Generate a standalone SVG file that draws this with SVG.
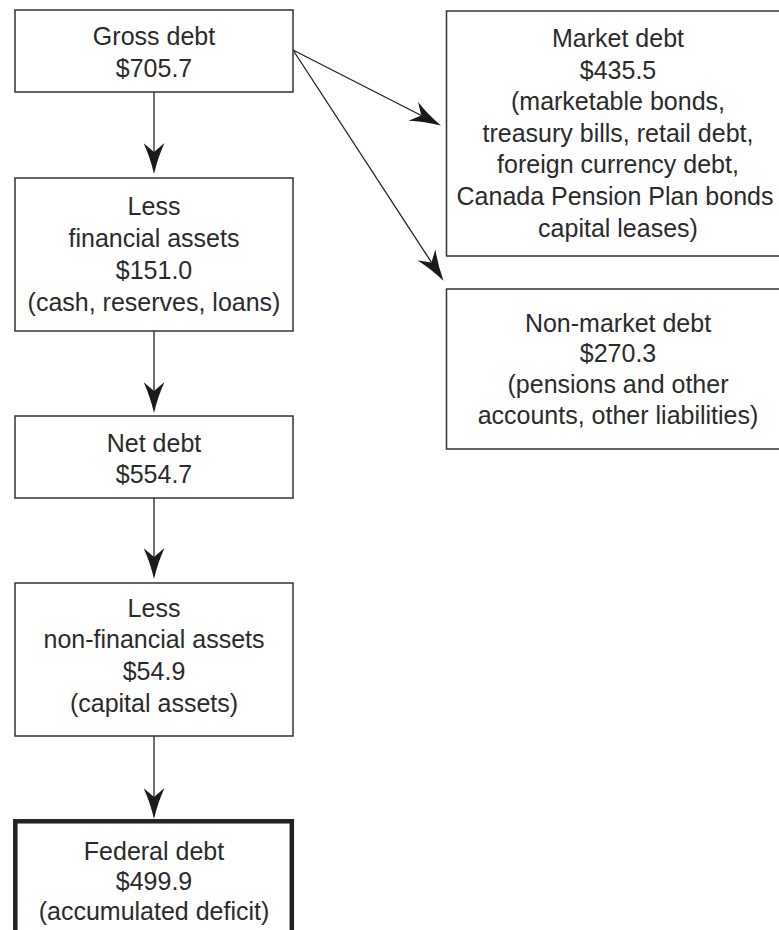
<svg xmlns="http://www.w3.org/2000/svg" width="779" height="930" viewBox="0 0 779 930">
<style>
.box{fill:#fff;stroke:#333;stroke-width:1.5}
.thick{fill:#fff;stroke:#222;stroke-width:4.5}
.t{font-family:"Liberation Sans",Arial,Helvetica,sans-serif;font-size:25px;fill:#2b2b2b;text-anchor:middle}
.c{stroke:#222;stroke-width:1.3;fill:none}
</style>
<defs>
<marker id="ah" markerUnits="userSpaceOnUse" viewBox="0 0 31 21" markerWidth="31" markerHeight="21" refX="9" refY="10.5" orient="auto">
<path d="M31,10.5 Q14,6.5 0,0 L9,10.5 L0,21 Q14,14.5 31,10.5 Z" fill="#1a1a1a"/>
</marker>
</defs>
<rect width="779" height="930" fill="#fff"/>
<g id="connectors">
<line class="c" x1="154" y1="92" x2="154" y2="152" marker-end="url(#ah)"/>
<line class="c" x1="154" y1="331" x2="154" y2="391" marker-end="url(#ah)"/>
<line class="c" x1="154" y1="498" x2="154" y2="557" marker-end="url(#ah)"/>
<line class="c" x1="154" y1="736" x2="154" y2="797" marker-end="url(#ah)"/>
<line class="c" x1="293" y1="50" x2="421.3" y2="115.5" marker-end="url(#ah)"/>
<line class="c" x1="293" y1="50" x2="431.5" y2="262.4" marker-end="url(#ah)"/>
</g>
<g id="gross">
<rect class="box" x="15" y="10" width="278" height="82"/>
<text class="t" x="154" y="45">Gross debt</text>
<text class="t" x="154" y="77">$705.7</text>
</g>
<g id="financial">
<rect class="box" x="15" y="178" width="278" height="153"/>
<text class="t" x="154" y="215">Less</text>
<text class="t" x="154" y="247">financial assets</text>
<text class="t" x="154" y="279">$151.0</text>
<text class="t" x="154" y="311">(cash, reserves, loans)</text>
</g>
<g id="net">
<rect class="box" x="15" y="416" width="278" height="82"/>
<text class="t" x="154" y="452">Net debt</text>
<text class="t" x="154" y="483">$554.7</text>
</g>
<g id="nonfinancial">
<rect class="box" x="15" y="583" width="278" height="153"/>
<text class="t" x="154" y="617">Less</text>
<text class="t" x="154" y="648">non-financial assets</text>
<text class="t" x="154" y="680">$54.9</text>
<text class="t" x="154" y="712">(capital assets)</text>
</g>
<g id="federal">
<rect class="thick" x="15.3" y="821.3" width="276.5" height="140"/>
<text class="t" x="154" y="860">Federal debt</text>
<text class="t" x="154" y="890">$499.9</text>
<text class="t" x="154" y="920">(accumulated deficit)</text>
</g>
<g id="market">
<rect class="box" x="446.5" y="11" width="345" height="245"/>
<text class="t" x="618" y="47">Market debt</text>
<text class="t" x="618" y="79">$435.5</text>
<text class="t" x="618" y="110">(marketable bonds,</text>
<text class="t" x="618" y="142">treasury bills, retail debt,</text>
<text class="t" x="618" y="173">foreign currency debt,</text>
<text class="t" x="615" y="205">Canada Pension Plan bonds</text>
<text class="t" x="618" y="237">capital leases)</text>
</g>
<g id="nonmarket">
<rect class="box" x="446.5" y="289" width="345" height="160"/>
<text class="t" x="618" y="332">Non-market debt</text>
<text class="t" x="618" y="362">$270.3</text>
<text class="t" x="618" y="393">(pensions and other</text>
<text class="t" x="618" y="424">accounts, other liabilities)</text>
</g>
</svg>
